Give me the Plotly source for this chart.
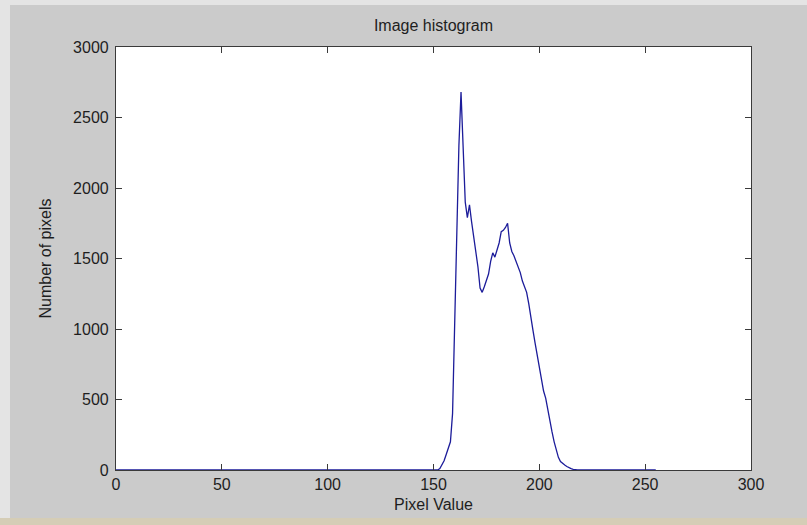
import plotly.graph_objects as go

# Histogram of pixel intensities (0..255)
pixel_values = list(range(256))
counts = (
    [0] * 153
    + [10, 35, 65, 110, 160, 200, 400, 1010, 1650, 2300,   # 153-162
       2680, 2330, 1900, 1790, 1880, 1760, 1660, 1560, 1440, 1290,  # 163-172
       1260, 1300, 1340, 1390, 1480, 1540, 1510, 1560, 1610, 1690,  # 173-182
       1700, 1720, 1750, 1610, 1550, 1520, 1480, 1440, 1400, 1340,  # 183-192
       1300, 1260, 1180, 1070, 990, 900, 820, 740, 660, 560,       # 193-202
       510, 420, 350, 270, 200, 140, 90, 60, 45, 35,               # 203-212
       25, 15, 10, 5]                                               # 213-216
    + [0] * 39
)

x_ticks = [0, 50, 100, 150, 200, 250, 300]
y_ticks = [0, 500, 1000, 1500, 2000, 2500, 3000]

W, H = 807, 525
L, R, T, B = 116, 751, 47, 470
pw, ph = R - L, B - T

def px(xpix):
    return (xpix - L) / pw

def py(ypix):
    return (B - ypix) / ph

fig = go.Figure()
fig.add_trace(go.Scatter(
    x=pixel_values, y=counts, mode="lines",
    line=dict(color="#1c1c9a", width=1.3),
    hoverinfo="x+y", showlegend=False,
))

font = dict(family="Liberation Sans, Arial, sans-serif", size=16, color="#1e1e1e")
axis_common = dict(
    showgrid=False, zeroline=False, showline=True, linecolor="#3a3a3a", linewidth=1.2,
    mirror="ticks", ticks="inside", ticklen=6, tickwidth=1, tickcolor="#3a3a3a",
    tickfont=font,
)

fig.update_layout(
    width=W, height=H,
    margin=dict(l=L, r=W - R, t=T, b=H - B, pad=0),
    paper_bgcolor="#cbcbcb", plot_bgcolor="#ffffff",
    title=dict(text="Image histogram", font=font, x=(L + R) / 2 / W, xanchor="center",
               y=1 - 25 / H, yanchor="middle", xref="container", yref="container"),
    xaxis=dict(range=[0, 300], tickvals=x_ticks, ticktext=[str(v) for v in x_ticks],
               title=dict(text="Pixel Value", font=font, standoff=6),
               ticklabelstandoff=0, **axis_common),
    yaxis=dict(range=[0, 3000], tickvals=y_ticks, ticktext=[str(v) for v in y_ticks],
               title=dict(text="Number of pixels", font=font, standoff=17),
               ticklabelstandoff=3, **axis_common),
    shapes=[
        dict(type="rect", xref="paper", yref="paper", x0=px(0), x1=px(W), y0=py(5), y1=py(0),
             fillcolor="#e4e4e4", line=dict(width=0), layer="below"),
        dict(type="rect", xref="paper", yref="paper", x0=px(0), x1=px(10), y0=py(H), y1=py(0),
             fillcolor="#e4e4e4", line=dict(width=0), layer="below"),
        dict(type="rect", xref="paper", yref="paper", x0=px(0), x1=px(W), y0=py(H), y1=py(518),
             fillcolor="#d5cdb6", line=dict(width=0), layer="below"),
    ],
)

fig.write_html("out.html")
